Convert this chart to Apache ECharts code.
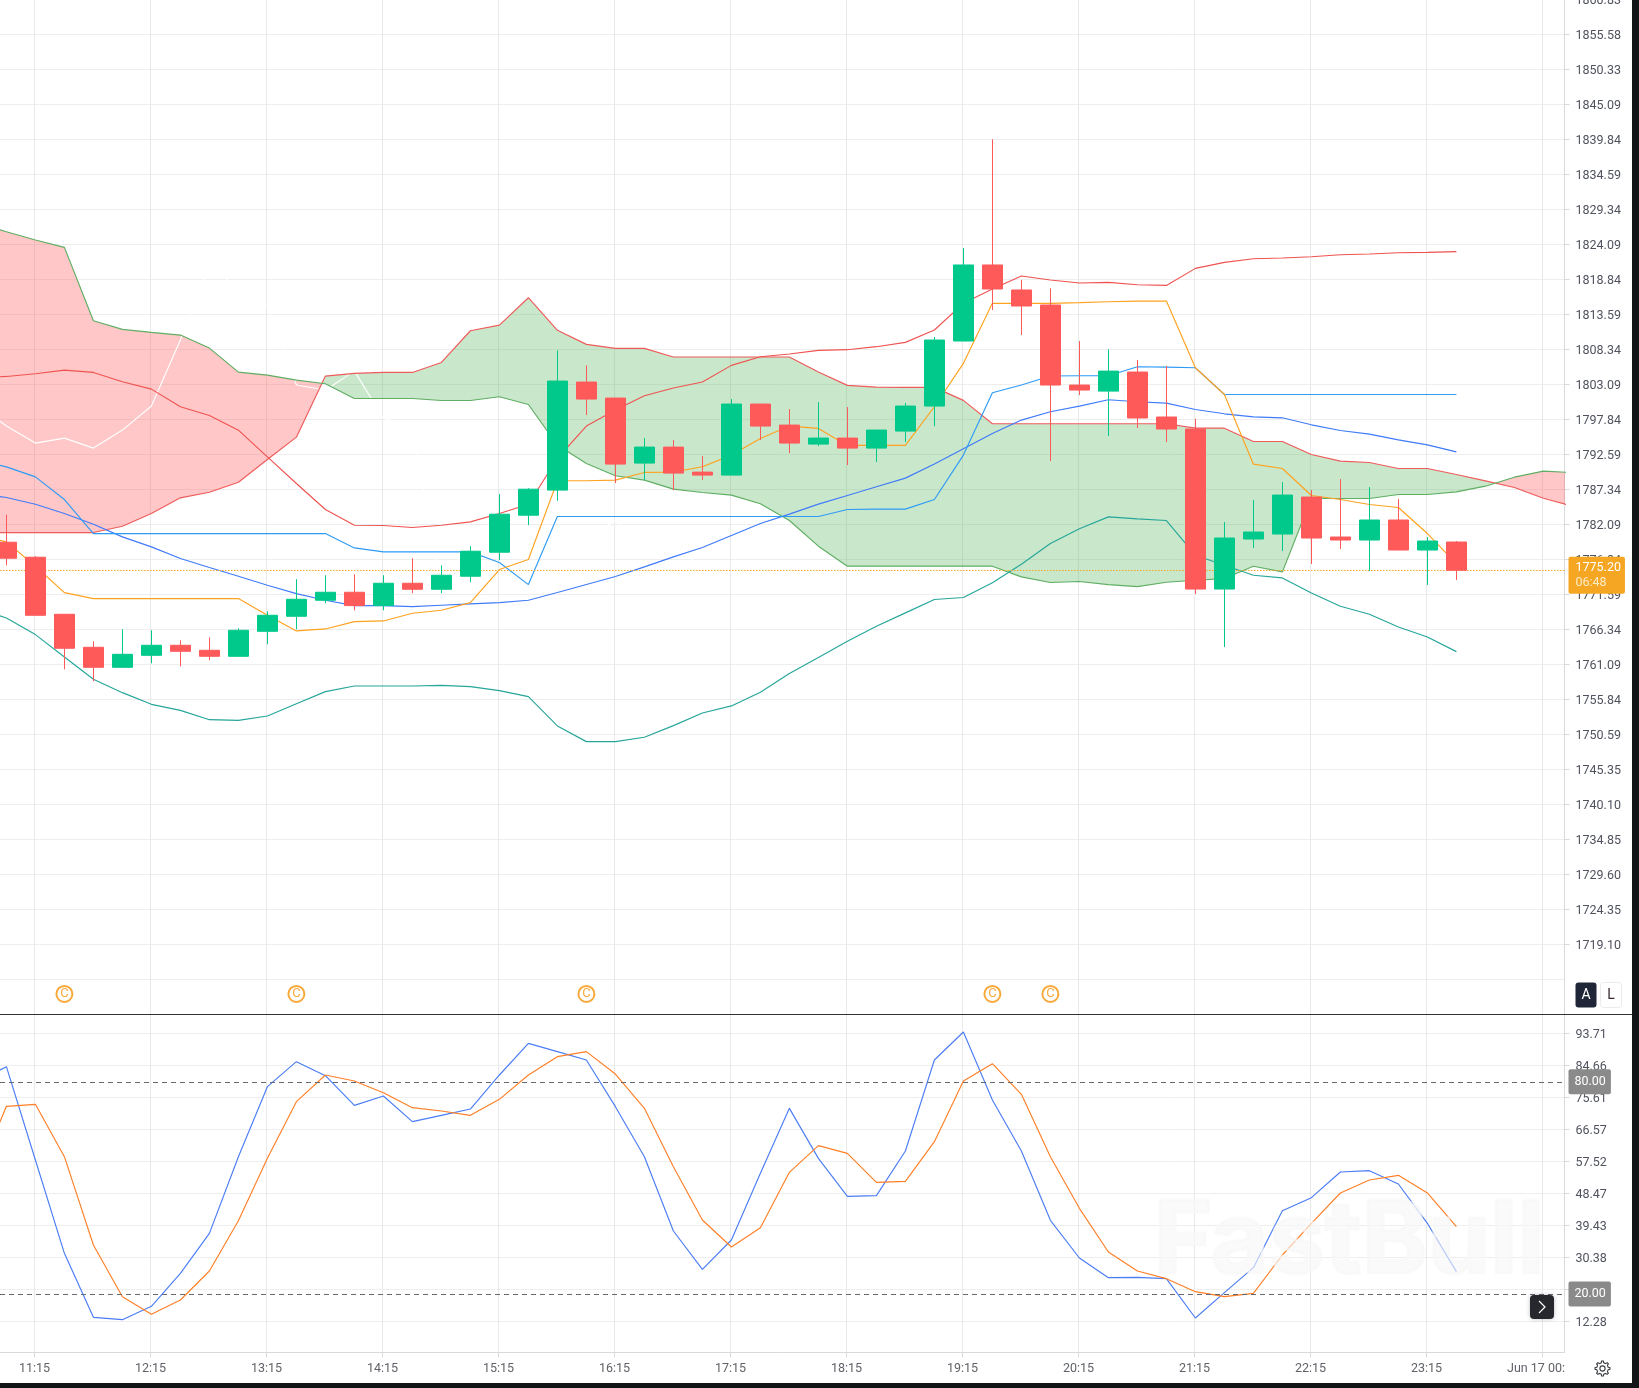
<!DOCTYPE html>
<html>
<head>
<meta charset="utf-8">
<title>Gold 15 minute chart</title>
<style>
  html, body { margin: 0; padding: 0; background: #131417; overflow: hidden; }
  #chart { width: 1632px; height: 1383px; background: #fff; }
</style>
<script src="https://cdn.jsdelivr.net/npm/echarts@6/dist/echarts.min.js"></script>
</head>
<body>
<div id="chart"></div>
<script>
// 15 minute candles, 11:00 to 23:30
const openPrices = [1779.40,1777.15,1768.60,1763.65,1760.65,1762.45,1763.95,1763.20,1762.30,1766.05,1768.30,1770.70,1771.90,1769.90,1773.25,1772.35,1774.30,1777.90,1783.45,1787.21,1803.41,1801.01,1791.26,1793.66,1789.91,1789.46,1800.11,1796.96,1794.11,1795.01,1793.51,1796.06,1799.81,1809.56,1820.96,1817.21,1814.96,1802.96,1802.05,1804.91,1798.17,1796.37,1772.38,1779.88,1780.63,1786.17,1780.18,1779.73,1782.73,1778.23,1779.43];
const closePrices = [1777.00,1768.45,1763.50,1760.65,1762.60,1763.95,1763.05,1762.30,1766.20,1768.45,1770.85,1771.90,1769.90,1773.25,1772.35,1774.45,1778.05,1783.60,1787.35,1803.56,1800.86,1791.11,1793.66,1789.76,1789.46,1800.11,1796.81,1794.26,1795.01,1793.51,1796.21,1799.81,1809.71,1820.96,1817.36,1814.81,1802.96,1802.21,1805.05,1798.02,1796.37,1772.38,1780.03,1780.93,1786.47,1780.03,1779.73,1782.73,1778.23,1779.58,1775.20];
const lowPrices = [1775.95,1768.45,1760.35,1758.55,1760.65,1761.25,1760.80,1761.70,1762.30,1764.10,1766.35,1770.25,1769.20,1769.20,1771.75,1771.75,1773.40,1776.70,1781.95,1785.61,1798.46,1788.26,1788.71,1787.21,1788.71,1789.46,1794.71,1792.76,1793.81,1790.96,1791.41,1794.41,1796.81,1809.56,1814.21,1810.46,1791.56,1801.46,1795.32,1796.52,1794.42,1771.63,1763.69,1778.53,1778.08,1776.13,1778.38,1775.08,1778.23,1772.98,1773.73];
const highPrices = [1783.55,1777.30,1768.60,1764.55,1766.35,1766.20,1764.70,1765.15,1766.50,1769.05,1773.85,1774.45,1774.60,1774.45,1777.00,1775.95,1778.80,1786.60,1787.50,1808.16,1805.91,1801.01,1795.01,1794.71,1792.31,1800.86,1800.11,1799.36,1800.41,1799.66,1796.21,1800.26,1810.16,1823.50,1839.80,1818.71,1817.46,1809.56,1808.31,1806.71,1805.81,1797.92,1782.43,1785.72,1788.42,1787.22,1788.87,1787.67,1785.87,1780.18,1779.58];

// Overlays; each array starts one candle before the first visible candle
const bollUpper = [1804.05,1804.25,1804.65,1805.20,1804.85,1803.45,1802.35,1799.70,1798.40,1796.20,1792.20,1788.20,1784.30,1781.95,1781.90,1781.60,1781.95,1782.45,1783.70,1785.10,1791.96,1796.81,1799.21,1801.36,1802.51,1803.41,1805.91,1807.21,1807.61,1808.16,1808.26,1808.71,1809.36,1811.21,1815.21,1817.36,1819.31,1818.71,1818.26,1818.35,1818.00,1817.90,1820.45,1821.35,1821.90,1822.00,1822.20,1822.50,1822.60,1822.80,1822.85,1822.95];
const bollMiddle = [1786.70,1786.10,1785.10,1783.70,1782.10,1780.20,1778.70,1776.95,1775.60,1774.30,1772.95,1771.70,1770.70,1769.90,1769.90,1769.75,1769.95,1770.15,1770.35,1770.70,1771.86,1773.06,1774.26,1775.71,1777.21,1778.61,1780.41,1782.21,1783.61,1785.11,1786.41,1787.71,1789.01,1791.11,1793.41,1795.71,1797.71,1798.96,1799.81,1800.75,1800.45,1800.25,1799.30,1798.65,1798.20,1798.05,1797.00,1796.15,1795.60,1794.75,1794.00,1792.95];
const bollLower = [1769.45,1768.05,1765.55,1762.20,1758.85,1756.85,1755.10,1754.20,1752.80,1752.70,1753.35,1755.20,1757.00,1757.85,1757.85,1757.85,1757.95,1757.75,1757.15,1756.25,1751.86,1749.51,1749.51,1750.16,1751.91,1753.81,1754.86,1756.91,1759.71,1762.11,1764.56,1766.81,1768.81,1770.81,1771.11,1773.31,1776.11,1779.21,1781.41,1783.20,1782.90,1782.65,1777.45,1775.95,1774.45,1774.05,1771.80,1769.80,1768.60,1766.70,1765.20,1763.00];
const conversionLine = [1791.70,1790.70,1789.20,1785.80,1780.70,1780.70,1780.70,1780.70,1780.70,1780.70,1780.70,1780.70,1780.70,1778.55,1777.95,1777.95,1777.95,1777.95,1776.35,1773.05,1783.26,1783.26,1783.26,1783.26,1783.26,1783.26,1783.26,1783.26,1783.26,1783.26,1784.31,1784.36,1784.36,1785.81,1792.46,1801.81,1802.96,1804.31,1804.36,1804.35,1805.70,1805.65,1805.55,1801.55,1801.55,1801.55,1801.55,1801.55,1801.55,1801.55,1801.55,1801.55];
const baseLine = [1780.45,1779.45,1775.80,1771.85,1770.95,1770.95,1770.95,1770.95,1770.95,1770.95,1768.45,1766.10,1766.40,1767.50,1767.60,1768.75,1769.20,1770.35,1775.30,1776.80,1788.61,1788.61,1788.71,1789.86,1789.91,1790.71,1792.46,1794.96,1796.81,1796.46,1793.91,1793.91,1793.91,1799.71,1806.21,1815.21,1815.21,1815.21,1815.31,1815.45,1815.55,1815.55,1805.55,1801.55,1791.10,1790.45,1786.40,1785.80,1785.05,1784.60,1780.70,1776.20];
const laggingSpan = [1800.11,1796.81,1794.26,1795.01,1793.51,1796.21,1799.81,1809.71,1820.96,1817.36,1814.81,1802.96,1802.21,1805.05,1798.02,1796.37,1772.38,1780.03,1780.93,1786.47,1780.03,1779.73,1782.73,1778.23,1779.58,1775.20];
const leadingSpanA = [1780.85,1780.85,1780.85,1780.85,1780.85,1781.80,1783.70,1786.05,1786.90,1788.40,1791.80,1795.15,1804.30,1804.70,1804.85,1804.85,1806.35,1811.10,1811.95,1816.05,1811.16,1809.06,1808.46,1808.46,1807.16,1807.16,1807.16,1807.16,1807.16,1804.91,1802.91,1802.66,1802.61,1802.61,1800.66,1797.16,1797.16,1797.16,1797.16,1797.16,1797.16,1797.16,1796.50,1796.50,1794.50,1794.50,1792.55,1791.55,1791.35,1790.45,1790.45,1789.55,1788.60,1787.60,1786.00,1784.80];
const leadingSpanB = [1827.20,1825.95,1824.70,1823.60,1812.60,1811.30,1810.85,1810.45,1808.50,1804.90,1804.45,1803.70,1803.15,1800.95,1800.95,1800.95,1800.65,1800.65,1801.20,1800.05,1793.96,1791.21,1789.36,1788.71,1787.36,1786.86,1786.46,1785.16,1782.66,1778.81,1775.81,1775.81,1775.81,1775.81,1775.81,1775.81,1774.21,1773.36,1773.51,1773.05,1772.75,1773.40,1773.70,1773.95,1775.80,1774.95,1785.95,1785.95,1785.95,1786.55,1786.55,1786.95,1787.80,1789.15,1790.05,1789.85];

// Stochastic oscillator
const stochK = [80.04,84.28,57.89,31.49,13.39,12.73,16.50,25.84,37.15,58.83,78.63,85.70,81.74,73.35,75.99,68.73,70.52,72.31,81.93,90.88,88.53,86.17,72.97,58.83,37.81,26.97,35.26,54.12,72.50,58.36,47.61,47.80,60.43,86.17,94.09,74.86,60.43,40.83,30.17,24.61,24.70,24.33,13.20,20.37,27.44,43.56,47.24,54.49,54.87,51.10,39.98,26.31];
const stochD = [53.36,73.07,73.63,58.83,33.85,19.24,14.24,18.30,26.50,40.73,58.36,74.39,81.93,80.23,76.93,72.69,71.75,70.52,75.05,81.93,87.11,88.53,82.21,72.50,56.00,40.92,33.28,38.75,54.40,61.94,59.77,51.57,51.86,63.07,80.23,85.13,76.46,58.83,44.22,31.87,26.50,24.33,20.65,19.24,20.18,31.02,39.98,48.56,52.23,53.55,48.56,39.03];

// Axis ticks
const priceTicks = [1860.83,1855.58,1850.33,1845.09,1839.84,1834.59,1829.34,1824.09,1818.84,1813.59,1808.34,1803.09,1797.84,1792.59,1787.34,1782.09,1776.84,1771.59,1766.34,1761.09,1755.84,1750.59,1745.35,1740.10,1734.85,1729.60,1724.35,1719.10,1713.85];
const stochTicks = [93.71,84.66,75.61,66.57,57.52,48.47,39.43,30.38,21.33,12.28];
const timeTickCandles = [1,5,9,13,17,21,25,29,33,37,41,45,49,53];
const timeTickLabels = ['11:15','12:15','13:15','14:15','15:15','16:15','17:15','18:15','19:15','20:15','21:15','22:15','23:15','Jun 17 00:'];
const timeTickOffset = -0.03;   // time grid sits a hair left of the candle centres

// Candles carrying a "C" event marker
const eventCandles = [2,10,20,34,36];
const eventLevel = 1711.68;

const lastPrice = 1775.20;
const countdown = '06:48';

const UP = '#00C98B', DOWN = '#FF5A5A';
const AXIS_FONT = 'Roboto, sans-serif';
const AXIS_SIZE = 12.5;
const AXIS_TEXT = '#50535E';

// Pair an overlay with the candle index of each of its points
const fromPrev = (values) => values.map((v, k) => [k - 1, v]);

// Split the cloud into runs where the same span stays on top,
// adding the crossing point between runs so each run is one polygon.
function buildCloudRuns(a, b) {
  const runs = [];
  let run = null;
  for (let k = 0; k < a.length; k++) {
    const x = k - 1, d = a[k] - b[k], sign = d >= 0 ? 1 : -1;
    if (run && run.sign !== sign) {
      const prev = run.pts[run.pts.length - 1];
      const t = (prev[1] - prev[2]) / ((prev[1] - prev[2]) - d);
      const cross = [prev[0] + t, prev[1] + t * (a[k] - prev[1]), prev[1] + t * (a[k] - prev[1])];
      run.pts.push(cross);
      run = { sign, pts: [cross] };
      runs.push(run);
    } else if (!run) {
      run = { sign, pts: [] };
      runs.push(run);
    }
    run.pts.push([x, a[k], b[k]]);
  }
  return runs;
}
const cloudRuns = buildCloudRuns(leadingSpanA, leadingSpanB);

const line = (name, values, color, extra) => Object.assign({
  name, type: 'line', data: fromPrev(values), showSymbol: false, symbol: 'none',
  lineStyle: { color, width: 1.15 }, itemStyle: { color }, z: 3, silent: true, clip: true,
  xAxisIndex: 0, yAxisIndex: 0
}, extra || {});

const tagLabel = (text) => ({
  show: true, position: 'end', distance: 4, formatter: text,
  color: '#fff', backgroundColor: '#8A8A8A', borderRadius: 2,
  padding: [6, 5, 6, 6], fontFamily: AXIS_FONT, fontSize: AXIS_SIZE
});

const timeTicks = timeTickCandles.map((k) => k + timeTickOffset);
const timeAxis = (index, showLabels) => ({
  type: 'value', gridIndex: index, min: -0.2207, max: 53.728, scale: true,
  axisLine: { show: showLabels, onZero: false, lineStyle: { color: '#D9D9D9' } },
  axisTick: { show: showLabels, length: 5, customValues: timeTicks, lineStyle: { color: '#D9D9D9' } },
  axisLabel: {
    show: showLabels, customValues: timeTicks, margin: 10, fontFamily: AXIS_FONT, fontSize: AXIS_SIZE, color: '#5F6268',
    formatter: (v) => {
      const text = timeTickLabels[timeTickCandles.indexOf(Math.round(v))];
      return text.startsWith('Jun') ? '{clip|' + text + '}' : text;
    },
    rich: { clip: { padding: [0, 13, 0, 0], fontFamily: AXIS_FONT, fontSize: AXIS_SIZE, color: '#5F6268' } }
  },
  splitLine: { show: true, lineStyle: { color: '#E9E9E9', width: 1 } },
  minorSplitLine: { show: false }
});

const valueAxis = (index, min, max, ticks) => ({
  type: 'value', gridIndex: index, position: 'right', min, max, scale: true,
  axisLine: { show: true, onZero: false, lineStyle: { color: '#D9D9D9' } },
  axisTick: { show: true, length: 5, customValues: ticks, lineStyle: { color: '#D9D9D9' } },
  axisLabel: {
    show: true, customValues: ticks, margin: 11, color: AXIS_TEXT,
    hideOverlap: false, showMinLabel: true, showMaxLabel: true,
    formatter: (v) => '{v|' + v.toFixed(2) + '}',
    rich: { v: { padding: [3, 0, 0, 0], fontFamily: AXIS_FONT, fontSize: AXIS_SIZE, color: AXIS_TEXT } }
  },
  splitLine: { show: true, lineStyle: { color: '#EEEEEE', width: 1 } }
});

// Settings gear outline around the centre point
function gearPoints(cx, cy, outer, inner, teeth) {
  const pts = [];
  for (let t = 0; t < teeth; t++) {
    const a = (t / teeth) * Math.PI * 2, w = Math.PI / teeth;
    [[-0.55, inner], [-0.3, outer], [0.3, outer], [0.55, inner]].forEach(([f, r]) => {
      pts.push([cx + r * Math.cos(a + f * w), cy + r * Math.sin(a + f * w)]);
    });
  }
  return pts;
}

const chart = echarts.init(document.getElementById('chart'), null, { renderer: 'canvas' });
chart.setOption({
  animation: false,
  backgroundColor: '#ffffff',
  grid: [
    { left: 0, right: 67.5, top: -1, height: 1015, outerBoundsMode: 'none', containLabel: false },
    { left: 0, right: 67.5, top: 1014, height: 338, outerBoundsMode: 'none', containLabel: false }
  ],
  xAxis: [timeAxis(0, false), timeAxis(1, true)],
  yAxis: [
    valueAxis(0, 1708.68, 1860.83, priceTicks),
    valueAxis(1, 3.59, 99.18, stochTicks)
  ],
  series: [
    {
      name: 'Cloud', type: 'custom', xAxisIndex: 0, yAxisIndex: 0, z: 1, clip: true, silent: true,
      data: cloudRuns.map((r) => [r.pts[0][0], r.pts[0][1]]),
      renderItem: (params, api) => {
        const run = cloudRuns[params.dataIndex];
        const top = run.pts.map((p) => api.coord([p[0], p[1]]));
        const bottom = run.pts.map((p) => api.coord([p[0], p[2]])).reverse();
        return {
          type: 'polygon',
          shape: { points: top.concat(bottom) },
          style: { fill: run.sign > 0 ? 'rgba(76,175,80,0.3)' : 'rgba(255,82,82,0.32)', stroke: 'none' }
        };
      }
    },
    line('Lagging span', laggingSpan, '#FFFFFF'),
    line('Leading span A', leadingSpanA, '#EF5B5B'),
    line('Leading span B', leadingSpanB, '#5FAE63'),
    line('Bollinger upper', bollUpper, '#EF5350'),
    line('Bollinger lower', bollLower, '#26A69A'),
    line('Bollinger middle', bollMiddle, '#3F7BFA'),
    line('Conversion line', conversionLine, '#2E9BF5'),
    line('Base line', baseLine, '#FFA21F'),
    {
      name: 'Price', type: 'candlestick', xAxisIndex: 0, yAxisIndex: 0, z: 5, barWidth: 20, silent: true,
      data: openPrices.map((o, k) => [k, o, closePrices[k], lowPrices[k], highPrices[k]]),
      itemStyle: { color: UP, color0: DOWN, borderColor: UP, borderColor0: DOWN, borderWidth: 1 },
      markLine: {
        silent: true, symbol: 'none', animation: false,
        lineStyle: { color: '#F5A623', type: [1.5, 1.5], width: 1 },
        label: {
          show: true, position: 'end', distance: 4, offset: [0, 5],
          formatter: '{p|' + lastPrice.toFixed(2) + '}\n{t|' + countdown + '}',
          backgroundColor: '#F5A623', borderRadius: 2, padding: [4, 4, 4, 7], align: 'left',
          rich: {
            p: { color: '#fff', fontFamily: AXIS_FONT, fontSize: AXIS_SIZE, lineHeight: 14.5 },
            t: { color: '#FFEBC8', fontFamily: AXIS_FONT, fontSize: AXIS_SIZE, lineHeight: 14.5 }
          }
        },
        data: [{ yAxis: lastPrice }]
      }
    },
    {
      name: 'Events', type: 'scatter', xAxisIndex: 0, yAxisIndex: 0, z: 6, silent: true,
      symbol: 'circle', symbolSize: 16,
      data: eventCandles.map((k) => [k, eventLevel]),
      itemStyle: { color: '#FFFFFF', borderColor: '#F7930A', borderWidth: 2 },
      label: { show: true, position: 'inside', formatter: 'C', color: '#F7930A', fontSize: 13, fontFamily: 'Roboto, sans-serif' }
    },
    line('%K', stochK, '#4A7DF5', {
      xAxisIndex: 1, yAxisIndex: 1,
      markLine: {
        silent: true, symbol: 'none', animation: false,
        lineStyle: { color: '#666A70', type: [5, 4], width: 1 },
        data: [
          { yAxis: 80, label: tagLabel('80.00') },
          { yAxis: 20, label: tagLabel('20.00') }
        ]
      }
    }),
    line('%D', stochD, '#FF7F27', { xAxisIndex: 1, yAxisIndex: 1 })
  ],
  graphic: [
    // price scale buttons; the panel also masks the lowest price label
    { type: 'rect', z: 20, shape: { x: 1565, y: 975, width: 67, height: 38.5 }, style: { fill: '#fff' } },
    { type: 'rect', z: 21, shape: { x: 1575.5, y: 982.5, width: 21, height: 25, r: 3 }, style: { fill: '#1E2638' } },
    { type: 'text', z: 22, x: 1586, y: 995, style: { text: 'A', fill: '#fff', font: '14px Roboto, sans-serif', align: 'center', verticalAlign: 'middle' } },
    { type: 'rect', z: 21, shape: { x: 1600.5, y: 982.5, width: 21, height: 25, r: 3 }, style: { fill: '#fff', stroke: '#EBEBEB', lineWidth: 1 } },
    { type: 'text', z: 22, x: 1611, y: 995, style: { text: 'L', fill: '#3A2A30', font: '14px Roboto, sans-serif', align: 'center', verticalAlign: 'middle' } },
    // pane divider
    { type: 'line', z: 22, shape: { x1: 0, y1: 1014.5, x2: 1632, y2: 1014.5 }, style: { stroke: '#2E3136', lineWidth: 1 } },
    // brand name across the oscillator pane
    { type: 'text', z: 24, x: 1349, y: 1243, style: {
        text: 'FastBull', font: '700 100px Inter, Roboto, sans-serif', align: 'center', verticalAlign: 'middle',
        fill: 'rgba(247,247,247,0.62)', stroke: 'rgba(247,247,247,0.62)', lineWidth: 3, lineJoin: 'round',
        shadowColor: 'rgba(0,0,0,0.5)', shadowBlur: 14, shadowOffsetY: 4 } },
    // scroll-to-latest button
    { type: 'rect', z: 26, shape: { x: 1530, y: 1295, width: 24, height: 24, r: 4 },
      style: { fill: '#26282D', shadowColor: 'rgba(0,0,0,0.25)', shadowBlur: 4 } },
    { type: 'polyline', z: 27, shape: { points: [[1539, 1301], [1545, 1307], [1539, 1313]] },
      style: { stroke: '#fff', lineWidth: 1.2, fill: 'none' } },
    // settings gear
    { type: 'polygon', z: 27, shape: { points: gearPoints(1602.5, 1368.5, 7.5, 5.8, 8) },
      style: { fill: 'none', stroke: '#3A3D42', lineWidth: 1.1 } },
    { type: 'circle', z: 27, shape: { cx: 1602.5, cy: 1368.5, r: 2.6 },
      style: { fill: 'none', stroke: '#3A3D42', lineWidth: 1.1 } }
  ]
});
</script>
</body>
</html>
